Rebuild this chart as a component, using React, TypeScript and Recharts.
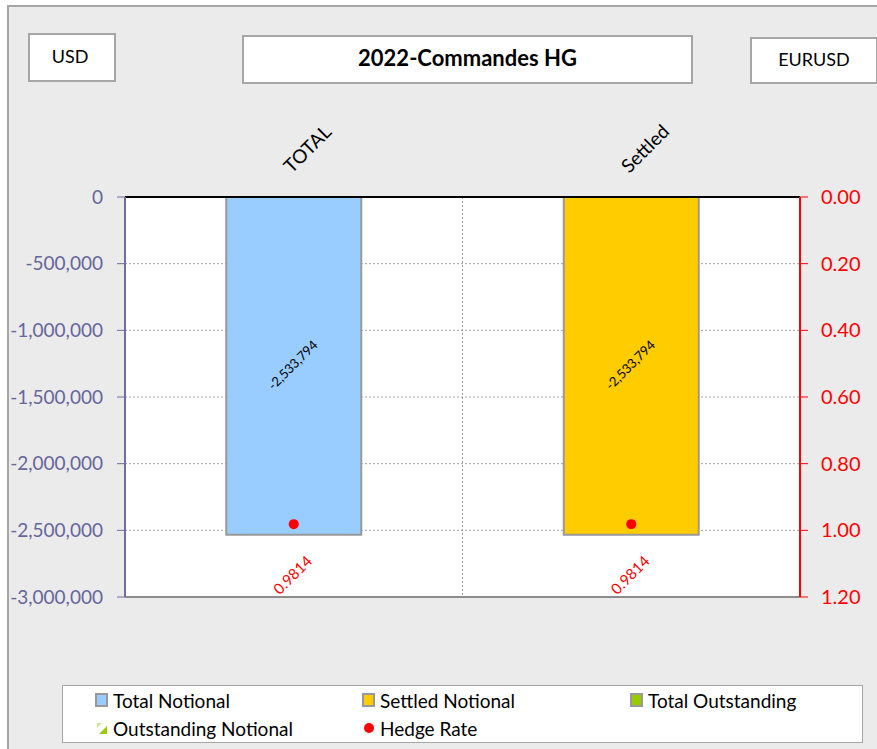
import React from "react";
import {
  ComposedChart,
  Bar,
  Line,
  XAxis,
  YAxis,
  CartesianGrid,
  ReferenceLine,
  LabelList,
} from "recharts";

// valeurs
const categories = ["TOTAL", "Settled"];
const totalNotional = [-2533794, 0];
const settledNotional = [0, -2533794];
const totalOutstanding = [0, 0];
const outstandingNotional = [0, 0];
const hedgeRate = [0.9814, 0.9814];

const leftTicks = [0, -500000, -1000000, -1500000, -2000000, -2500000, -3000000];
const rightTicks = [0, 0.2, 0.4, 0.6, 0.8, 1.0, 1.2];

const legendItems = [
  { name: "Total Notional", kind: "box", color: "#99ccff" },
  { name: "Settled Notional", kind: "box", color: "#ffcc00" },
  { name: "Total Outstanding", kind: "box", color: "#99cc00" },
  { name: "Outstanding Notional", kind: "pattern", color: "#99cc00" },
  { name: "Hedge Rate", kind: "dot", color: "#ff0000" },
];

const data = categories.map((name, i) => ({
  name,
  totalNotional: totalNotional[i],
  settledNotional: settledNotional[i],
  totalOutstanding: totalOutstanding[i],
  outstandingNotional: outstandingNotional[i],
  hedgeRate: hedgeRate[i],
}));

const FONT = "Lato, 'Noto Sans', sans-serif";

const fmt = (v: number) => v.toLocaleString("en-US");

const CategoryTick = (props: any) => {
  const { x, y, payload } = props;
  return (
    <text
      x={x - 2}
      y={y}
      transform={`rotate(-45 ${x - 2} ${y})`}
      textAnchor="start"
      fontSize={19}
      fill="#000"
      fontFamily={FONT}
    >
      {payload.value}
    </text>
  );
};

const BarValueLabel = (props: any) => {
  const { x, y, width, height, value } = props;
  if (!value) return null;
  const cx = x + width / 2;
  const cy = y + height / 2;
  return (
    <text
      x={cx}
      y={cy}
      transform={`rotate(-45 ${cx} ${cy})`}
      textAnchor="middle"
      dominantBaseline="middle"
      fontSize={13}
      fill="#000"
      fontFamily={FONT}
    >
      {fmt(value)}
    </text>
  );
};

const RateLabel = (props: any) => {
  const { x, y, value } = props;
  const cy = y + 52;
  return (
    <text
      x={x}
      y={cy}
      transform={`rotate(-45 ${x} ${cy})`}
      textAnchor="middle"
      dominantBaseline="middle"
      fontSize={15}
      fill="#ff0000"
      fontFamily={FONT}
    >
      {value.toFixed(4)}
    </text>
  );
};

const LegendIcon = ({ kind, color }: { kind: string; color: string }) => {
  if (kind === "dot") {
    return (
      <svg width={14} height={14} style={{ marginRight: 4 }}>
        <circle cx={7} cy={7} r={5} fill={color} />
      </svg>
    );
  }
  if (kind === "pattern") {
    return (
      <svg width={14} height={14} style={{ marginRight: 4 }}>
        <polygon points="2,2 7,2 2,7" fill="#cce699" />
        <polygon points="12,5 12,13 4,13" fill={color} />
      </svg>
    );
  }
  return (
    <svg width={14} height={14} style={{ marginRight: 4 }}>
      <rect x={1} y={1} width={11} height={12} fill={color} stroke="#999" strokeWidth={2} />
    </svg>
  );
};

const boxStyle: React.CSSProperties = {
  position: "absolute",
  background: "#fff",
  border: "2px solid #a6a6a6",
  boxSizing: "border-box",
  display: "flex",
  alignItems: "center",
  justifyContent: "center",
  fontFamily: FONT,
  color: "#000",
};

export default function App() {
  return (
    <div
      style={{
        position: "absolute",
        left: 0,
        top: 0,
        width: 877,
        height: 749,
        overflow: "hidden",
        background: "#fff",
      }}
    >
      <div
        style={{
          position: "absolute",
          left: 7,
          top: 5,
          width: 900,
          height: 800,
          background: "#ebebeb",
          border: "2px solid #a6a6a6",
        }}
      />
      <div style={{ position: "absolute", left: 0, top: 0 }}>
        <ComposedChart
          width={877}
          height={749}
          data={data}
          margin={{ top: 150, right: 7, bottom: 152, left: 10 }}
          barCategoryGap="30%"
          style={{ fontFamily: FONT }}
        >
          <CartesianGrid
            yAxisId="left"
            fill="#fff"
            stroke="#a0a0a0"
            strokeDasharray="2 2"
            verticalCoordinatesGenerator={({ offset }: any) => [
              offset.left + offset.width / 2,
            ]}
          />
          <XAxis
            dataKey="name"
            orientation="top"
            height={47}
            axisLine={{ stroke: "#000", strokeWidth: 2 }}
            tickLine={false}
            tickSize={0}
            tickMargin={23}
            tick={<CategoryTick />}
          />
          <YAxis
            yAxisId="left"
            width={115}
            domain={[-3000000, 0]}
            ticks={leftTicks}
            tickFormatter={fmt}
            axisLine={{ stroke: "#6f6f9f", strokeWidth: 2 }}
            tickLine={{ stroke: "#6f6f9f" }}
            tickSize={8}
            tickMargin={14}
            tick={{ fill: "#66669a", fontSize: 19 }}
          />
          <YAxis
            yAxisId="right"
            orientation="right"
            width={70}
            reversed
            domain={[0, 1.2]}
            ticks={rightTicks}
            tickFormatter={(v: number) => v.toFixed(2)}
            axisLine={{ stroke: "#ff0000", strokeWidth: 2 }}
            tickLine={{ stroke: "#ff0000" }}
            tickSize={8}
            tickMargin={13}
            tick={{ fill: "#ff0000", fontSize: 20 }}
          />
          <ReferenceLine yAxisId="left" y={-3000000} stroke="#8c8c8c" strokeWidth={2} />
          <Bar
            yAxisId="left"
            dataKey="totalNotional"
            stackId="a"
            fill="#99ccff"
            stroke="#999"
            strokeWidth={2}
            isAnimationActive={false}
          >
            <LabelList dataKey="totalNotional" content={<BarValueLabel />} />
          </Bar>
          <Bar
            yAxisId="left"
            dataKey="settledNotional"
            stackId="a"
            fill="#ffcc00"
            stroke="#999"
            strokeWidth={2}
            isAnimationActive={false}
          >
            <LabelList dataKey="settledNotional" content={<BarValueLabel />} />
          </Bar>
          <Bar
            yAxisId="left"
            dataKey="totalOutstanding"
            stackId="a"
            fill="#99cc00"
            stroke="#999"
            strokeWidth={2}
            isAnimationActive={false}
          />
          <Bar
            yAxisId="left"
            dataKey="outstandingNotional"
            stackId="a"
            fill="#99cc00"
            isAnimationActive={false}
          />
          <Line
            yAxisId="right"
            dataKey="hedgeRate"
            stroke="none"
            dot={{ r: 5, fill: "#ff0000", stroke: "none" }}
            activeDot={false}
            isAnimationActive={false}
          >
            <LabelList dataKey="hedgeRate" content={<RateLabel />} />
          </Line>
        </ComposedChart>
      </div>

      <div style={{ ...boxStyle, left: 28, top: 33, width: 88, height: 49, fontSize: 18, paddingBottom: 4, paddingRight: 4 }}>
        USD
      </div>
      <div
        style={{
          ...boxStyle,
          left: 242,
          top: 35,
          width: 451,
          height: 49,
          fontSize: 22,
          fontWeight: "bold",
          paddingBottom: 4,
        }}
      >
        2022-Commandes HG
      </div>
      <div style={{ ...boxStyle, left: 750, top: 37, width: 128, height: 47, fontSize: 18, paddingBottom: 4 }}>
        EURUSD
      </div>

      <div
        style={{
          position: "absolute",
          left: 62,
          top: 685,
          width: 801,
          height: 58,
          boxSizing: "border-box",
          background: "#fff",
          border: "1px solid #a6a6a6",
          fontFamily: FONT,
          fontSize: 19,
          color: "#000",
          display: "grid",
          gridTemplateColumns: "267px 268px auto",
          gridAutoRows: "28px",
          paddingLeft: 32,
          paddingTop: 0,
        }}
      >
        {legendItems.map((it) => (
          <div key={it.name} style={{ display: "flex", alignItems: "center" }}>
            <LegendIcon kind={it.kind} color={it.color} />
            {it.name}
          </div>
        ))}
      </div>
    </div>
  );
}
